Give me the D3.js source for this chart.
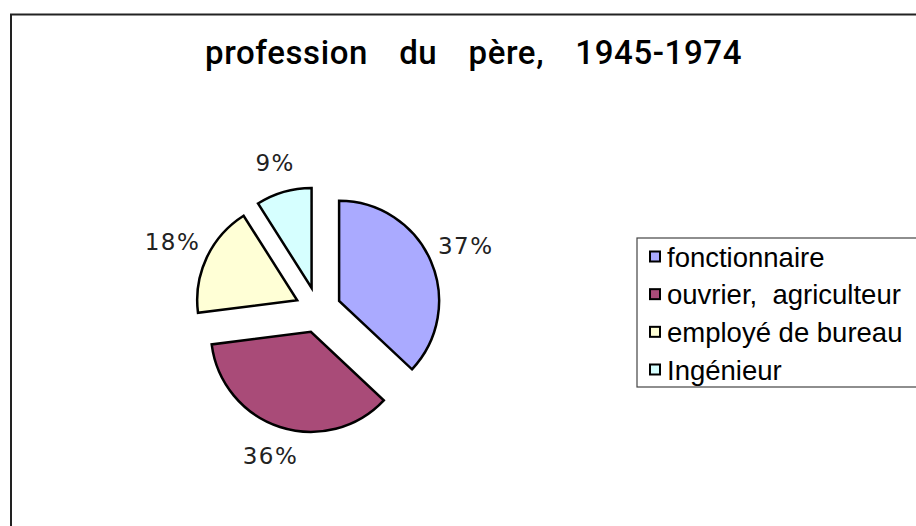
<!DOCTYPE html>
<html><head><meta charset="utf-8">
<script src="https://cdn.jsdelivr.net/npm/d3@7/dist/d3.min.js"></script>
<style>html,body{margin:0;padding:0;background:#fff;overflow:hidden}</style>
</head><body>
<svg id="chart" width="916" height="526"></svg>
<script>
const categories = ["fonctionnaire", "ouvrier,  agriculteur", "employé de bureau", "Ingénieur"];
const values = [37, 36, 18, 9];
const labels = ["37%", "36%", "18%", "9%"];
const colors = ["#aaaaff", "#a94b78", "#ffffd6", "#d6ffff"];
const title = "profession du père, 1945-1974";

const svg = d3.select("#chart");
svg.append("rect").attr("x", 0).attr("y", 0).attr("width", 916).attr("height", 526).attr("fill", "#fff");
svg.append("path").attr("d", "M11,526 L11,14.5 L916,14.5").attr("fill", "none").attr("stroke", "#222").attr("stroke-width", 2);

const t = svg.append("text").attr("x", 205).attr("y", 64)
  .attr("font-family", "Roboto, 'Liberation Sans', sans-serif").attr("font-weight", 500)
  .attr("font-size", 33).attr("letter-spacing", 0.6).attr("fill", "#000").text(title);
const tl = t.node().getComputedTextLength();
const gaps = title.split(" ").length - 1;
t.attr("word-spacing", Math.max(0, (537 - tl) / gaps));

const cx = 318, cy = 310, r = 100, explode = 23;
const pie = d3.pie().sort(null).value(d => d);
const arcs = pie(values);
const arc = d3.arc().innerRadius(0).outerRadius(r);
const g = svg.append("g").attr("transform", `translate(${cx},${cy})`);

arcs.forEach((a, i) => {
  const mid = (a.startAngle + a.endAngle) / 2;
  const dx = Math.sin(mid) * explode, dy = -Math.cos(mid) * explode;
  g.append("path").attr("d", arc(a)).attr("transform", `translate(${dx},${dy})`)
    .attr("fill", colors[i]).attr("stroke", "#000").attr("stroke-width", 2.5).attr("stroke-linejoin", "miter");
  const lr = 150 + Math.abs(Math.sin(mid)) * 12;
  g.append("text").attr("x", Math.sin(mid) * lr).attr("y", -Math.cos(mid) * lr)
    .attr("text-anchor", "middle").attr("dominant-baseline", "central")
    .attr("font-family", "'DejaVu Sans', Verdana, sans-serif").attr("font-size", 23)
    .attr("letter-spacing", 1.5).attr("fill", "#222").text(labels[i]);
});

const lg = svg.append("g");
lg.append("rect").attr("x", 637).attr("y", 238).attr("width", 300).attr("height", 149)
  .attr("fill", "#fff").attr("stroke", "#444").attr("stroke-width", 1.2);
const rowY = d3.scalePoint().domain(categories).range([257, 370]);
categories.forEach((c, i) => {
  const y = rowY(c);
  lg.append("rect").attr("x", 650).attr("y", y - 5.5).attr("width", 10).attr("height", 10)
    .attr("fill", colors[i]).attr("stroke", "#000").attr("stroke-width", 2);
  lg.append("text").attr("x", 667).attr("y", y).attr("dominant-baseline", "central")
    .attr("font-family", "'Liberation Sans', Arial, sans-serif").attr("font-size", 27.5)
    .attr("fill", "#000").style("white-space", "pre").text(c);
});
</script>
</body></html>
